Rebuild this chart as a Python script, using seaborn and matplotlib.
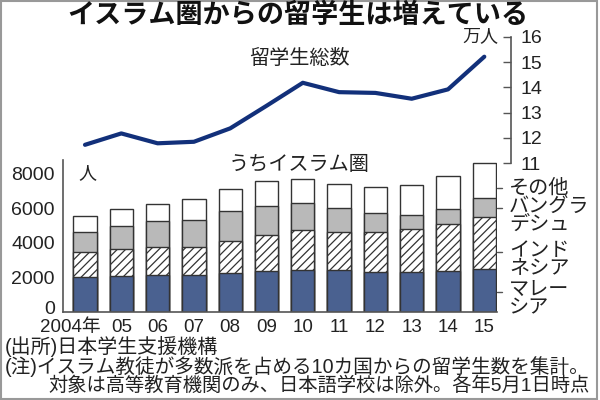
import seaborn as sns
import matplotlib.pyplot as plt
import matplotlib.transforms as mtrans
from matplotlib.patches import Rectangle
import pandas as pd
import numpy as np

years = ["2004年", "05", "06", "07", "08", "09", "10", "11", "12", "13", "14", "15"]
# 留学生総数 (万人)
total = [11.73, 12.18, 11.79, 11.85, 12.38, 13.27, 14.18, 13.81, 13.78, 13.55, 13.92, 15.21]
# うちイスラム圏 (人)
malaysia = [2000, 2100, 2130, 2130, 2270, 2380, 2440, 2420, 2310, 2310, 2380, 2460]
indonesia = [1440, 1520, 1600, 1640, 1850, 2040, 2280, 2200, 2310, 2460, 2700, 3040]
bangladesh = [1190, 1340, 1500, 1520, 1690, 1700, 1550, 1360, 1090, 850, 860, 1060]
other = [910, 980, 1000, 1210, 1290, 1420, 1390, 1390, 1480, 1690, 1910, 2060]
legend_labels = ["その他", "バングラ\nデシュ", "インド\nネシア", "マレー\nシア"]

df = pd.DataFrame({"year": years, "malaysia": malaysia, "indonesia": indonesia,
                   "bangladesh": bangladesh, "other": other})
df["c1"] = df["malaysia"]
df["c2"] = df["c1"] + df["indonesia"]
df["c3"] = df["c2"] + df["bangladesh"]
df["c4"] = df["c3"] + df["other"]

sns.set_style("white")
plt.rcParams['font.family'] = ['Liberation Sans', 'Noto Sans CJK JP', 'DejaVu Sans']
plt.rcParams['hatch.linewidth'] = 0.9
txt = '#222222'
edge = '#333333'

fig = plt.figure(figsize=(6, 4), dpi=100)
W, H = 600, 400

def box(l, t, r, b):
    return [l / W, 1 - b / H, (r - l) / W, (b - t) / H]

x0 = 85.0
step = 36.3
def xl(px):
    return (px - x0) / step

# bars
ax = fig.add_axes(box(63, 160, 497, 312))
specs = [("c4", "white", None), ("c3", "#b9b9b9", None), ("c2", "white", "////"), ("c1", "#4a6190", None)]
for col, fc, hatch in specs:
    sns.barplot(data=df, x="year", y=col, color=fc, saturation=1, width=0.64,
                edgecolor=edge, linewidth=1.0, hatch=hatch, ax=ax)
ax.set_xlim(xl(63), xl(497))
ax.set_ylim(0, 8770)
ax.set_xlabel("")
ax.set_ylabel("")
ax.set_yticks([0, 2000, 4000, 6000, 8000])
ax.tick_params(axis='y', direction='in', length=5, width=1, color='#555555',
               labelsize=14, labelcolor=txt, pad=6)
ax.tick_params(axis='x', length=0, labelsize=13.5, labelcolor=txt, pad=5)
for s in ["top", "right"]:
    ax.spines[s].set_visible(False)
for s in ["left", "bottom"]:
    ax.spines[s].set_color('#555555')
    ax.spines[s].set_linewidth(1.2)
lab0 = ax.get_xticklabels()[0]
lab0.set_ha('right')
lab0.set_transform(lab0.get_transform() + mtrans.ScaledTranslation(0.16, 0, fig.dpi_scale_trans))
ylab0 = ax.get_yticklabels()[0]
ylab0.set_transform(ylab0.get_transform() + mtrans.ScaledTranslation(0, 0.05, fig.dpi_scale_trans))
ax.text(0.035, 8000, "人", fontsize=13, color=txt, va='center',
        transform=mtrans.blended_transform_factory(ax.transAxes, ax.transData))

# legend leaders
leg_y = [7140, 5980, 3480, 1170]
for yv, lab in zip(leg_y, legend_labels):
    ax.plot([1.0, 1.012], [yv, yv], color='#555555', lw=1, clip_on=False,
            transform=mtrans.blended_transform_factory(ax.transAxes, ax.transData))
    ax.text(1.028, yv, lab, fontsize=14.5, color=txt, va='top' if '\n' in lab else 'center',
            linespacing=0.9, clip_on=False,
            transform=mtrans.blended_transform_factory(ax.transAxes, ax.transData) +
            mtrans.ScaledTranslation(0, 0.11 if '\n' in lab else 0, fig.dpi_scale_trans))

# line
ax2 = fig.add_axes(box(63, 36.7, 510.7, 163.3))
ax2.patch.set_alpha(0)
sns.lineplot(x=np.arange(len(years)), y=total, color='#12307a', lw=3, ax=ax2)
ax2.set_xlim(xl(63), xl(510.7))
ax2.set_ylim(11, 16)
ax2.set_xticks([])
ax2.set_yticks([11, 12, 13, 14, 15, 16])
ax2.yaxis.tick_right()
ax2.tick_params(axis='y', direction='in', length=6, width=1, color='#555555',
                labelsize=14, labelcolor=txt, pad=7)
for s in ["top", "left", "bottom"]:
    ax2.spines[s].set_visible(False)
ax2.spines["right"].set_color('#555555')
ax2.spines["right"].set_linewidth(1.2)
ax2.text(0.972, 16, "万人", fontsize=13, color=txt, ha='right', va='center',
         transform=mtrans.blended_transform_factory(ax2.transAxes, ax2.transData))

fig.text(299 / W, 1 - 58 / H, "留学生総数", fontsize=14.5, color=txt, ha='center', va='center')
fig.text(299 / W, 1 - 165 / H, "うちイスラム圏", fontsize=14.5, color=txt, ha='center', va='center')
fig.text(298 / W, 1 - 16 / H, "イスラム圏からの留学生は増えている", fontsize=19.5,
         fontweight='bold', color='#111111', ha='center', va='center')
fig.text(5 / W, 1 - 346 / H, "(出所)日本学生支援機構", fontsize=14.4, color=txt, va='center')
fig.text(5 / W, 1 - 367 / H, "(注)イスラム教徒が多数派を占める10カ国からの留学生数を集計。",
         fontsize=14.1, color=txt, va='center')
fig.text(48 / W, 1 - 386 / H, "対象は高等教育機関のみ、日本語学校は除外。各年5月1日時点",
         fontsize=13.9, color=txt, va='center')

fig.patches.append(Rectangle((0.002, 0.003), 0.993, 0.994, transform=fig.transFigure,
                             fill=False, edgecolor='#999999', lw=1.5))

fig.savefig("out.png", dpi=100)
